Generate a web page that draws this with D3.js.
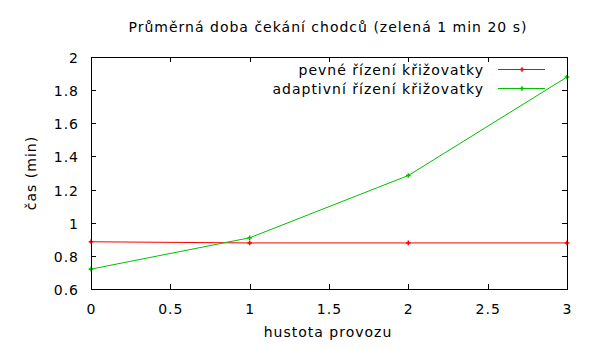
<!DOCTYPE html>
<html>
<head>
<meta charset="utf-8">
<script src="https://cdn.jsdelivr.net/npm/d3@7"></script>
<style>
  body { margin: 0; background: #fff; }
  text { font-family: "DejaVu Sans", sans-serif; fill: #000; font-size: 14px; letter-spacing: 1px; }
</style>
</head>
<body>
<div id="chart"></div>
<script>
const density = [0, 1, 2, 3];
const fixedControl = [0.885, 0.878, 0.878, 0.878];
const adaptiveControl = [0.72, 0.909, 1.285, 1.879];
const xTicks = [0, 0.5, 1, 1.5, 2, 2.5, 3];
const yTicks = [0.6, 0.8, 1, 1.2, 1.4, 1.6, 1.8, 2];
const seriesNames = ["pevné řízení křižovatky", "adaptivní řízení křižovatky"];
const seriesColors = ["#ff0000", "#00c000"];

const width = 600, height = 350;
const margin = { top: 57, right: 33, bottom: 61, left: 91 };
const w = width - margin.left - margin.right;
const h = height - margin.top - margin.bottom;

const svg = d3.select("#chart").append("svg")
  .attr("width", width).attr("height", height);

const x = d3.scaleLinear().domain([0, 3]).range([margin.left, margin.left + w]);
const y = d3.scaleLinear().domain([0.6, 2]).range([margin.top + h, margin.top]);

const fmt = d => String(d);
const tickLen = 5;

// inward ticks, mirrored on top and right
const g = svg.append("g").attr("stroke", "#000").attr("stroke-width", 1).attr("shape-rendering", "crispEdges");
xTicks.forEach(t => {
  const px = Math.round(x(t)) + 0.5;
  g.append("line").attr("x1", px).attr("x2", px).attr("y1", margin.top + h).attr("y2", margin.top + h - tickLen);
  g.append("line").attr("x1", px).attr("x2", px).attr("y1", margin.top).attr("y2", margin.top + tickLen);
});
yTicks.forEach(t => {
  const py = Math.round(y(t)) + 0.5;
  g.append("line").attr("x1", margin.left).attr("x2", margin.left + tickLen).attr("y1", py).attr("y2", py);
  g.append("line").attr("x1", margin.left + w).attr("x2", margin.left + w - tickLen).attr("y1", py).attr("y2", py);
});

svg.append("g").selectAll("text").data(xTicks).join("text")
  .attr("x", d => x(d) + 0.5).attr("y", margin.top + h + 25)
  .attr("text-anchor", "middle").text(fmt);

svg.append("g").selectAll("text").data(yTicks).join("text")
  .attr("x", margin.left - 12).attr("y", d => y(d) + 6)
  .attr("text-anchor", "end").text(fmt);

// series
const line = d3.line().x(d => x(d[0])).y(d => y(d[1]));
const series = [fixedControl, adaptiveControl];
series.forEach((vals, i) => {
  const pts = density.map((d, j) => [d, vals[j]]);
  svg.append("path").datum(pts).attr("d", line)
    .attr("fill", "none").attr("stroke", seriesColors[i]).attr("stroke-width", 1);
  svg.append("g").selectAll("path").data(pts).join("path")
    .attr("d", d3.symbol(d3.symbolCross, 12))
    .attr("transform", d => `translate(${x(d[0])},${y(d[1])})`)
    .attr("fill", seriesColors[i]);
});

// frame
svg.append("rect").attr("x", margin.left + 0.5).attr("y", margin.top + 0.5)
  .attr("width", w).attr("height", h)
  .attr("fill", "none").attr("stroke", "#000").attr("shape-rendering", "crispEdges");

// legend
const legend = svg.append("g");
seriesNames.forEach((name, i) => {
  const ly = 69 + i * 19;
  legend.append("text").attr("x", 484).attr("y", ly + 6)
    .attr("text-anchor", "end").text(name);
  legend.append("line").attr("x1", 498).attr("x2", 545).attr("y1", ly + 0.5).attr("y2", ly + 0.5)
    .attr("stroke", seriesColors[i]);
  legend.append("path").attr("d", d3.symbol(d3.symbolCross, 12))
    .attr("transform", `translate(522,${ly + 0.5})`).attr("fill", seriesColors[i]);
});

svg.append("text").attr("x", 328).attr("y", 32).attr("text-anchor", "middle")
  .text("Průměrná doba čekání chodců (zelená 1 min 20 s)");
svg.append("text").attr("x", 328).attr("y", 337).attr("text-anchor", "middle")
  .text("hustota provozu");
svg.append("text").attr("transform", "translate(36,173) rotate(-90)").attr("text-anchor", "middle")
  .text("čas (min)");
</script>
</body>
</html>
